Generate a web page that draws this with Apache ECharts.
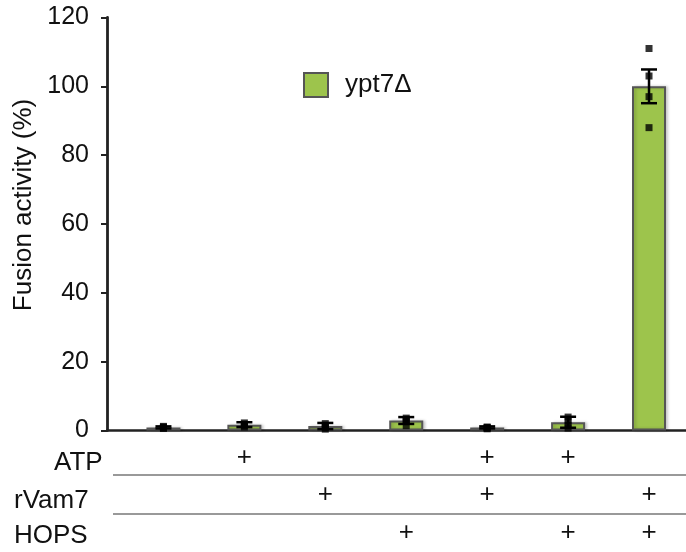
<!DOCTYPE html>
<html>
<head>
<meta charset="utf-8">
<script src="https://cdn.jsdelivr.net/npm/echarts@6/dist/echarts.min.js"></script>
<style>
html,body{margin:0;padding:0;background:#fff;}
#chart{width:686px;height:552px;}
</style>
</head>
<body>
<div id="chart"></div>
<script>
// ---- data ----
const seriesName = 'ypt7Δ';
const conditions = [0, 1, 2, 3, 4, 5, 6];
const barValues = [0.9, 1.7, 1.3, 2.9, 0.9, 2.4, 100];
const errValues = [0.3, 0.7, 0.9, 1.0, 0.3, 1.6, 4.9];
const replicates = [
  [0.6, 0.8, 1.0, 1.2],
  [1.0, 1.4, 1.8, 2.2],
  [0.4, 1.0, 1.4, 2.0],
  [1.4, 2.6, 3.2, 3.6],
  [0.5, 0.7, 0.9, 1.0],
  [0.7, 1.6, 2.8, 3.9],
  [111, 103, 97, 88]
];
const yTicks = [0, 20, 40, 60, 80, 100, 120];
const rowLabels = ['ATP', 'rVam7', 'HOPS'];
const rowATP   = ['', '+', '', '', '+', '+', ''];
const rowRVam7 = ['', '', '+', '', '+', '', '+'];
const rowHOPS  = ['', '', '', '+', '', '+', '+'];
const rows = [rowATP, rowRVam7, rowHOPS];

const FONT = "'Liberation Sans', Arial, Helvetica, sans-serif";
const chart = echarts.init(document.getElementById('chart'));

const barData = conditions.map((c, i) => [c, barValues[i]]);
const errData = conditions.map((c, i) => [c, barValues[i] - errValues[i], barValues[i] + errValues[i]]);
const ptData = [];
replicates.forEach((arr, i) => arr.forEach(v => ptData.push([conditions[i], v])));

chart.setOption({
  animation: false,
  backgroundColor: '#fff',
  textStyle: { fontFamily: FONT },
  grid: { left: 107, right: 0, top: 17.5, bottom: 121.5 },
  legend: {
    data: [seriesName],
    left: 303, top: 72,
    padding: 0,
    itemWidth: 24, itemHeight: 24,
    itemGap: 10,
    textStyle: { fontSize: 26, color: '#111', fontFamily: FONT, padding: [0, 0, 0, 12] },
    icon: 'rect'
  },
  xAxis: {
    type: 'value',
    min: -0.6975, max: 6.457,
    axisLine: { show: true, onZero: false, lineStyle: { color: '#222', width: 2.5 } },
    axisTick: { show: false },
    axisLabel: { show: false },
    splitLine: { show: false }
  },
  yAxis: {
    type: 'value',
    min: 0, max: 120, interval: 20,
    name: 'Fusion activity (%)',
    nameLocation: 'middle',
    nameGap: 61,
    nameTextStyle: { fontSize: 26, color: '#111', fontFamily: FONT, padding: [0, 0, 0, 38] },
    axisLine: { show: true, onZero: false, lineStyle: { color: '#222', width: 2.8 } },
    axisTick: { show: true, length: 6, lineStyle: { color: '#222', width: 2 } },
    axisLabel: { fontSize: 25, color: '#111', margin: 18, fontFamily: FONT,
      formatter: v => yTicks.indexOf(v) >= 0 ? String(v) : '' },
    splitLine: { show: false }
  },
  series: [
    {
      name: seriesName,
      type: 'bar',
      data: barData,
      barWidth: 34,
      itemStyle: { color: '#9DC44C', borderColor: '#555', borderWidth: 2,
        shadowColor: 'rgba(0,0,0,0.18)', shadowBlur: 3, shadowOffsetX: 2, shadowOffsetY: 0 },
      z: 2
    },
    {
      name: 'err',
      type: 'custom',
      data: errData,
      z: 4,
      renderItem: function (params, api) {
        const x = api.value(0);
        const lo = api.coord([x, api.value(1)]);
        const hi = api.coord([x, api.value(2)]);
        const hw = 8;
        const st = { stroke: '#000', lineWidth: 2.5 };
        return {
          type: 'group',
          children: [
            { type: 'line', shape: { x1: lo[0], y1: lo[1], x2: hi[0], y2: hi[1] }, style: st },
            { type: 'line', shape: { x1: hi[0] - hw, y1: hi[1], x2: hi[0] + hw, y2: hi[1] }, style: st },
            { type: 'line', shape: { x1: lo[0] - hw, y1: lo[1], x2: lo[0] + hw, y2: lo[1] }, style: st }
          ]
        };
      }
    },
    {
      name: 'pts',
      type: 'scatter',
      data: ptData,
      symbol: 'rect',
      symbolSize: 7,
      itemStyle: { color: '#000' },
      z: 5
    }
  ]
});

// ---- table below the axis, positioned via axis scale ----
const rowY = [458, 495, 533];
const labelY = [463, 501, 536];
const labelX = [54, 14, 14];
const graphics = [];
rowLabels.forEach((lab, r) => {
  graphics.push({
    type: 'text', x: labelX[r], y: labelY[r],
    style: { text: lab, font: '26px ' + FONT, fill: '#111', verticalAlign: 'middle' }
  });
});
rows.forEach((row, r) => {
  row.forEach((s, i) => {
    if (!s) return;
    const px = chart.convertToPixel({ xAxisIndex: 0 }, conditions[i]);
    graphics.push({
      type: 'text', x: px, y: rowY[r],
      style: { text: s, font: '26px ' + FONT, fill: '#111', align: 'center', verticalAlign: 'middle' }
    });
  });
});
[475, 514].forEach(y => {
  graphics.push({
    type: 'line', shape: { x1: 113, y1: y, x2: 686, y2: y },
    style: { stroke: '#999', lineWidth: 2 }
  });
});
chart.setOption({ graphic: graphics });
</script>
</body>
</html>
